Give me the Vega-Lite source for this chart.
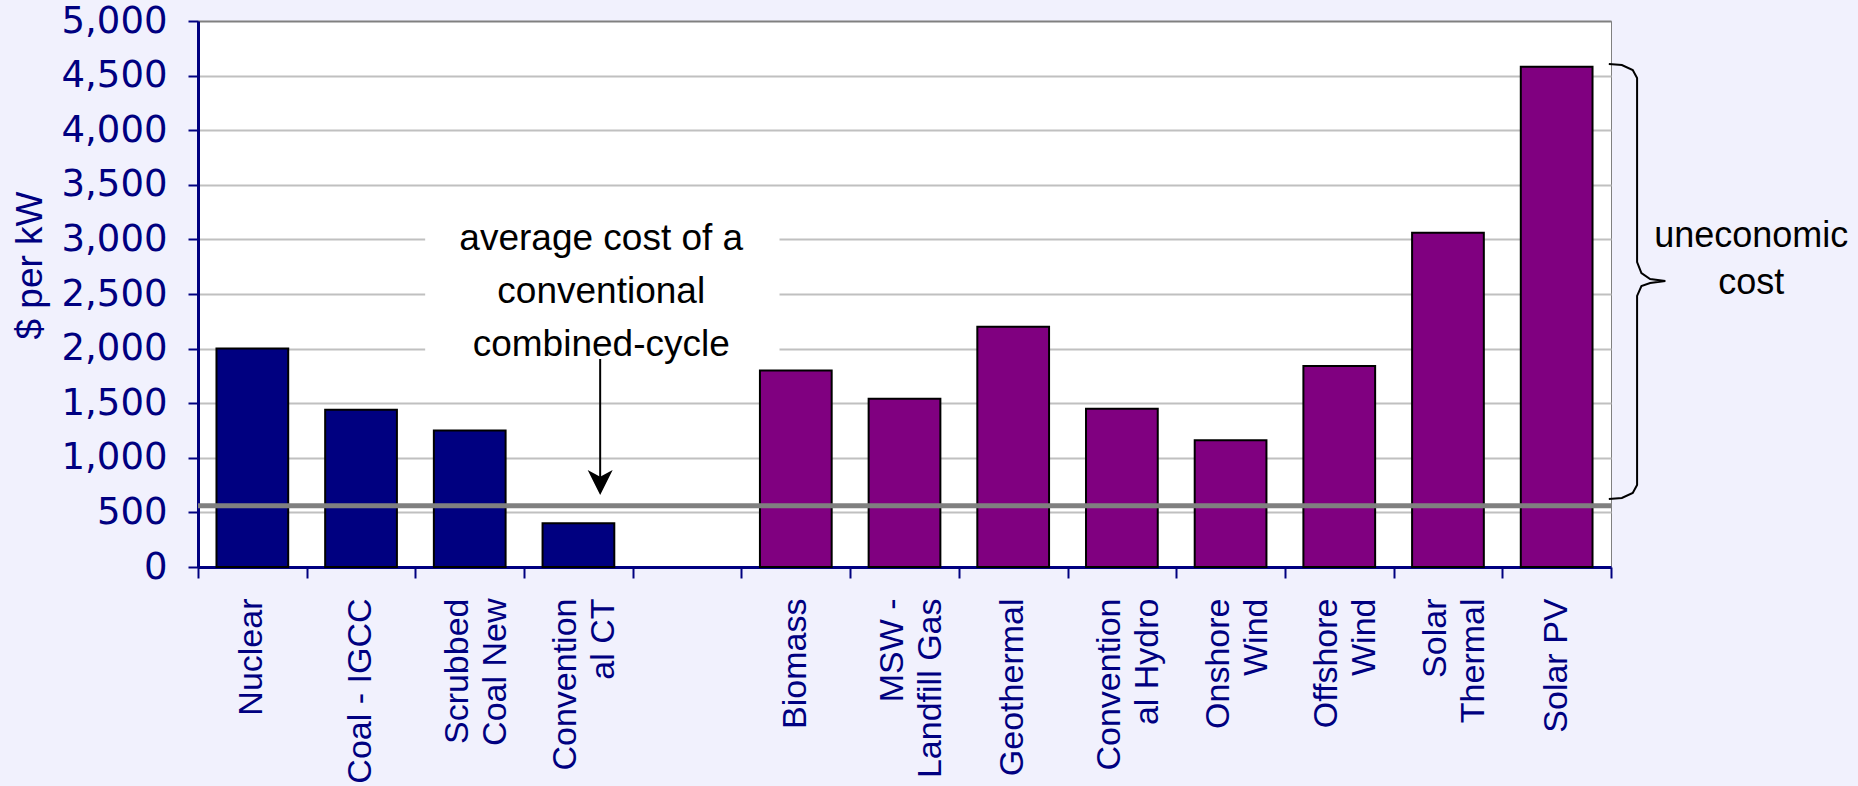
{
  "$schema": "https://vega.github.io/schema/vega-lite/v6.json",
  "width": 1413,
  "height": 546,
  "autosize": {"type": "none"},
  "padding": {"left": 198, "top": 21, "right": 247, "bottom": 219},
  "background": "#f1f1fd",
  "config": {
    "view": {"fill": "white", "stroke": "#808080", "strokeWidth": 1}
  },
  "resolve": {"scale": {"x": "independent"}},
  "encoding": {
    "y": {
      "field": "v",
      "type": "quantitative",
      "scale": {"domain": [0, 5000], "nice": false, "zero": true},
      "axis": {
        "title": "$ per kW",
        "values": [0, 500, 1000, 1500, 2000, 2500, 3000, 3500, 4000, 4500, 5000],
        "labelExpr": "format(datum.value, ',.0f')",
        "labelFont": "DejaVu Sans",
        "labelFontSize": 37,
        "labelPadding": 21,
        "labelLimit": 400,
        "labelColor": "#000080",
        "tickColor": "#000080",
        "tickSize": 10,
        "tickWidth": 2,
        "domainColor": "#000080",
        "domainWidth": 3,
        "gridColor": {"condition": {"test": "datum.value == 5000", "value": "#808080"}, "value": "#c0c0c0"},
        "gridWidth": 2,
        "titleFont": "Liberation Sans",
        "titleFontSize": 37,
        "titleFontWeight": "normal",
        "titleColor": "#000080",
        "titleX": -168,
        "titleY": 244,
        "titleAngle": -90,
        "titleAlign": "center",
        "titleBaseline": "middle"
      }
    }
  },
  "layer": [
    {
      "data": {
        "values": [
          {"name": "Nuclear", "v": 2000, "group": "Conventional"},
          {"name": "Coal - IGCC", "v": 1440, "group": "Conventional"},
          {"name": "Scrubbed\nCoal New", "v": 1250, "group": "Conventional"},
          {"name": "Convention\nal CT", "v": 400, "group": "Conventional"},
          {"name": "Biomass", "v": 1800, "group": "Renewable"},
          {"name": "MSW -\nLandfill Gas", "v": 1540, "group": "Renewable"},
          {"name": "Geothermal", "v": 2200, "group": "Renewable"},
          {"name": "Convention\nal Hydro", "v": 1450, "group": "Renewable"},
          {"name": "Onshore\nWind", "v": 1160, "group": "Renewable"},
          {"name": "Offshore\nWind", "v": 1840, "group": "Renewable"},
          {"name": "Solar\nThermal", "v": 3060, "group": "Renewable"},
          {"name": "Solar PV", "v": 4580, "group": "Renewable"}
        ]
      },
      "mark": {"type": "bar", "stroke": "black", "strokeWidth": 2},
      "encoding": {
        "x": {
          "field": "name",
          "type": "nominal",
          "sort": null,
          "scale": {
            "domain": ["Nuclear", "Coal - IGCC", "Scrubbed\nCoal New", "Convention\nal CT", " ", "Biomass", "MSW -\nLandfill Gas", "Geothermal", "Convention\nal Hydro", "Onshore\nWind", "Offshore\nWind", "Solar\nThermal", "Solar PV"],
            "paddingInner": 0.34,
            "paddingOuter": 0.17
          },
          "axis": {
            "orient": "bottom",
            "title": null,
            "labelExpr": "split(datum.value, '\\n')",
            "labelAngle": -90,
            "labelAlign": "right",
            "labelBaseline": "middle",
            "labelFont": "Liberation Sans",
            "labelFontSize": 34,
            "labelLineHeight": 38,
            "labelPadding": 31,
            "labelLimit": 400,
            "labelOffset": {"condition": {"test": "indexof(datum.value, '\\n') >= 0", "value": -12}, "value": 0},
            "labelColor": "#000080",
            "labelOverlap": false,
            "ticks": false,
            "domainColor": "#000080",
            "domainWidth": 3,
            "grid": false
          }
        },
        "color": {
          "field": "group",
          "type": "nominal",
          "scale": {"domain": ["Conventional", "Renewable"], "range": ["#000080", "#800080"]},
          "legend": null
        }
      }
    },
    {
      "data": {"values": [{"u": 2.09, "u2": 5.35, "v": 1850, "v2": 3250}]},
      "mark": {"type": "rect", "fill": "white"},
      "encoding": {
        "x": {
          "field": "u",
          "type": "quantitative",
          "scale": {"domain": [0, 13], "nice": false, "zero": false},
          "axis": {
            "orient": "bottom",
            "values": [0, 1, 2, 3, 4, 5, 6, 7, 8, 9, 10, 11, 12, 13],
            "labels": false,
            "domain": false,
            "grid": false,
            "title": null,
            "tickColor": "#000080",
            "tickSize": 11,
            "tickWidth": 2
          }
        },
        "x2": {"field": "u2"},
        "y2": {"field": "v2"}
      }
    },
    {
      "data": {"values": [{"v": 560}]},
      "mark": {"type": "rule", "color": "#808080", "strokeWidth": 5},
      "encoding": {}
    },
    {
      "data": {"values": [{"u": 3.70, "v": 1905, "v2": 720}]},
      "mark": {"type": "rule", "color": "black", "strokeWidth": 2},
      "encoding": {
        "x": {"field": "u", "type": "quantitative", "scale": {"domain": [0, 13], "nice": false, "zero": false}, "axis": null},
        "y2": {"field": "v2"}
      }
    },
    {
      "data": {"values": [{"u": 3.70, "v": 774}]},
      "mark": {"type": "point", "shape": "M0,1L-1,-1L0,-0.45L1,-1Z", "size": 625, "filled": true, "color": "black", "opacity": 1, "strokeWidth": 0},
      "encoding": {
        "x": {"field": "u", "type": "quantitative", "scale": {"domain": [0, 13], "nice": false, "zero": false}, "axis": null}
      }
    },
    {
      "data": {"values": [{"u": 3.71, "v": 3000, "t": "average cost of a\nconventional\ncombined-cycle"}]},
      "mark": {"type": "text", "lineBreak": "\n", "lineHeight": 53, "font": "Liberation Sans", "fontSize": 37, "align": "center", "baseline": "middle", "color": "black"},
      "encoding": {
        "x": {"field": "u", "type": "quantitative", "scale": {"domain": [0, 13], "nice": false, "zero": false}, "axis": null},
        "text": {"field": "t"}
      }
    },
    {
      "data": {
        "values": [
          {"s": 1, "u": 12.98, "v": 4606},
          {"s": 2, "u": 13.10, "v": 4597},
          {"s": 3, "u": 13.20, "v": 4551},
          {"s": 4, "u": 13.24, "v": 4478},
          {"s": 5, "u": 13.24, "v": 2793},
          {"s": 6, "u": 13.28, "v": 2692},
          {"s": 7, "u": 13.36, "v": 2637},
          {"s": 8, "u": 13.50, "v": 2619},
          {"s": 9, "u": 13.36, "v": 2601},
          {"s": 10, "u": 13.28, "v": 2573},
          {"s": 11, "u": 13.24, "v": 2482},
          {"s": 12, "u": 13.24, "v": 751},
          {"s": 13, "u": 13.20, "v": 678},
          {"s": 14, "u": 13.10, "v": 632},
          {"s": 15, "u": 12.98, "v": 623}
        ]
      },
      "mark": {"type": "line", "color": "black", "strokeWidth": 2, "interpolate": "linear", "clip": false},
      "encoding": {
        "x": {"field": "u", "type": "quantitative", "scale": {"domain": [0, 13], "nice": false, "zero": false}, "axis": null},
        "order": {"field": "s", "type": "quantitative"}
      }
    },
    {
      "data": {"values": [{"u": 14.29, "v": 3030, "t": "uneconomic\ncost"}]},
      "mark": {"type": "text", "lineBreak": "\n", "lineHeight": 47, "font": "Liberation Sans", "fontSize": 36, "align": "center", "baseline": "middle", "color": "black"},
      "encoding": {
        "x": {"field": "u", "type": "quantitative", "scale": {"domain": [0, 13], "nice": false, "zero": false}, "axis": null},
        "text": {"field": "t"}
      }
    }
  ]
}
